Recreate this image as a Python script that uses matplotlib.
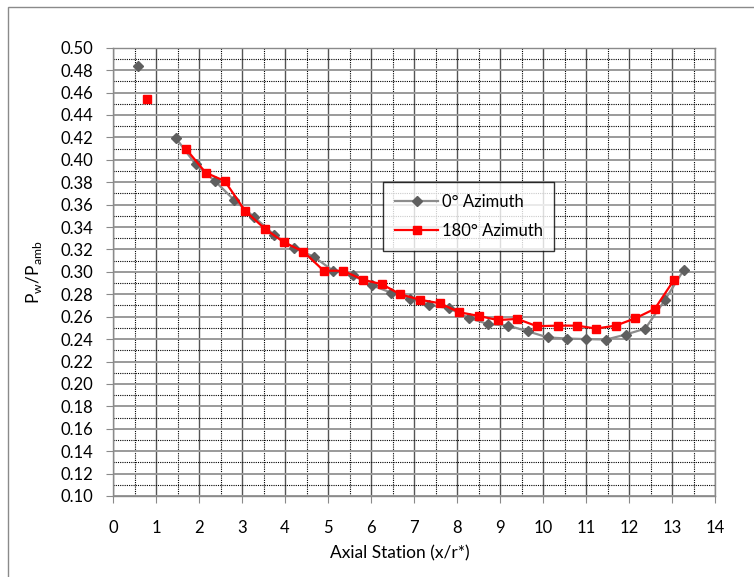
import numpy as np
import matplotlib
matplotlib.use("Agg")
import matplotlib.pyplot as plt
from matplotlib.ticker import MultipleLocator
from matplotlib.patches import Rectangle

# ---------- Data ----------
nan = np.nan

az0_x = [0.57, 1.02, 1.47, 1.92, 2.37, 2.82, 3.28, 3.75, 4.20, 4.67, 5.12, 5.57,
         6.02, 6.46, 6.91, 7.36, 7.81, 8.27, 8.72, 9.19, 9.64, 10.11, 10.56,
         11.01, 11.47, 11.92, 12.38, 12.83, 13.27]
az0_y = [0.484, nan, 0.419, 0.396, 0.381, 0.364, 0.349, 0.333, 0.3215, 0.3135,
         0.301, 0.297, 0.288, 0.2815, 0.276, 0.2705, 0.2675, 0.259, 0.2534,
         0.252, 0.247, 0.2415, 0.2405, 0.240, 0.2396, 0.244, 0.2494, 0.2746,
         0.3015]

az180_x = [0.80, 1.25, 1.69, 2.155, 2.60, 3.07, 3.53, 3.97, 4.43, 4.90, 5.35,
           5.81, 6.25, 6.68, 7.15, 7.60, 8.05, 8.50, 8.95, 9.40, 9.86, 10.34,
           10.79, 11.23, 11.69, 12.15, 12.60, 13.05]
az180_y = [0.4544, nan, 0.410, 0.3885, 0.381, 0.3545, 0.3385, 0.3265, 0.318,
           0.301, 0.301, 0.293, 0.289, 0.280, 0.275, 0.272, 0.264, 0.2607,
           0.257, 0.258, 0.2515, 0.252, 0.252, 0.2494, 0.252, 0.2586, 0.267,
           0.293]

labels = ["0\u00b0 Azimuth", "180\u00b0 Azimuth"]

# ---------- Figure ----------
plt.rcParams["font.family"] = ["Lato", "DejaVu Sans"]

fig = plt.figure(figsize=(7.54, 5.77), dpi=100)
ax = fig.add_axes([113 / 754, 1 - 496 / 577, 602 / 754, 448.3 / 577])

# outer chart frame (only left/top edges are visible in the reference)
fig.patches.append(Rectangle((8 / 754, -0.05), 1.2, 1 - 7 / 577 + 0.05,
                             transform=fig.transFigure, fill=False,
                             edgecolor="#8a8a8a", linewidth=1.0))

# ---------- Draw ----------
ax.plot(az0_x, az0_y, color="#8c8c8c", linewidth=1.6, marker="D",
        markersize=4.6, markerfacecolor="#5f5f5f", markeredgecolor="#5f5f5f",
        label=labels[0], zorder=3)
ax.plot(az180_x, az180_y, color="#ff0000", linewidth=1.6, marker="s",
        markersize=6.0, markerfacecolor="#ff0000", markeredgecolor="#ff0000",
        label=labels[1], zorder=4)

# ---------- Style ----------
ax.set_xlim(0, 14)
ax.set_ylim(0.10, 0.50)
ax.xaxis.set_major_locator(MultipleLocator(1))
ax.xaxis.set_minor_locator(MultipleLocator(0.5))
ax.yaxis.set_major_locator(MultipleLocator(0.02))
ax.yaxis.set_minor_locator(MultipleLocator(0.01))
ax.yaxis.set_major_formatter(lambda v, p: f"{v:.2f}")

ax.grid(axis="x", which="major", color="#555555", linewidth=1.0)
ax.grid(axis="x", which="minor", color="#000000", linewidth=0.8,
        linestyle=(0, (1, 1)))
ax.grid(axis="y", which="major", color="#9a9a9a", linewidth=1.4)
ax.grid(axis="y", which="minor", color="#000000", linewidth=0.8,
        linestyle=(0, (1, 1)))
ax.set_axisbelow(True)

for s in ax.spines.values():
    s.set_color("#8a8a8a")
    s.set_linewidth(1.0)

ax.tick_params(axis="both", which="major", labelsize=12, length=5,
               color="#8a8a8a", direction="out")
ax.tick_params(axis="y", which="major", pad=9)
ax.tick_params(axis="x", which="major", pad=12)
ax.tick_params(axis="both", which="minor", length=0)

ax.set_xlabel("Axial Station (x/r*)", fontsize=12.5)
ax.xaxis.set_label_coords(0.476, -0.109)
ax.set_ylabel(r"P$_\mathregular{w}$/P$_\mathregular{amb}$", fontsize=12.5,
              labelpad=12)

leg = ax.legend(loc="upper left", bbox_to_anchor=(0.449, 0.700),
                fontsize=12, frameon=True, fancybox=False, borderpad=0.7,
                handlelength=2.6, handletextpad=0.2, labelspacing=0.8,
                borderaxespad=0)
leg.get_frame().set_edgecolor("#000000")
leg.get_frame().set_linewidth(1.0)

fig.savefig("out.png", dpi=100)
